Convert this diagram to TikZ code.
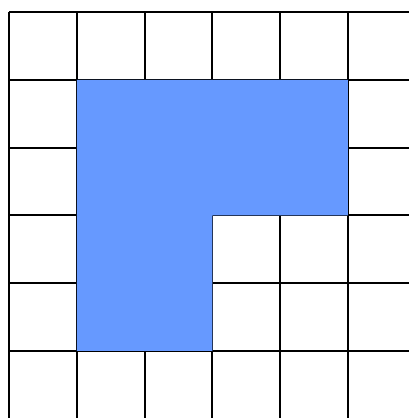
\documentclass[tikz,border=0pt]{standalone}
\definecolor{shapeblue}{RGB}{102,153,255}
\begin{document}
\begin{tikzpicture}[gridline/.style={black,line width=0.8pt}]
    % Grid with an L-shaped region filled on top
    \useasboundingbox (-0.133,0.177) rectangle (5.9,-5.99);
    \foreach \i in {0,...,5} {
        \draw[gridline] (\i,0) -- (\i,-6.2);
        \draw[gridline] (0,-\i) -- (6.2,-\i);
    }
    \fill[shapeblue] (1,-1) -- (5,-1) -- (5,-3) -- (3,-3) -- (3,-5) -- (1,-5) -- cycle;
\end{tikzpicture}
\end{document}
